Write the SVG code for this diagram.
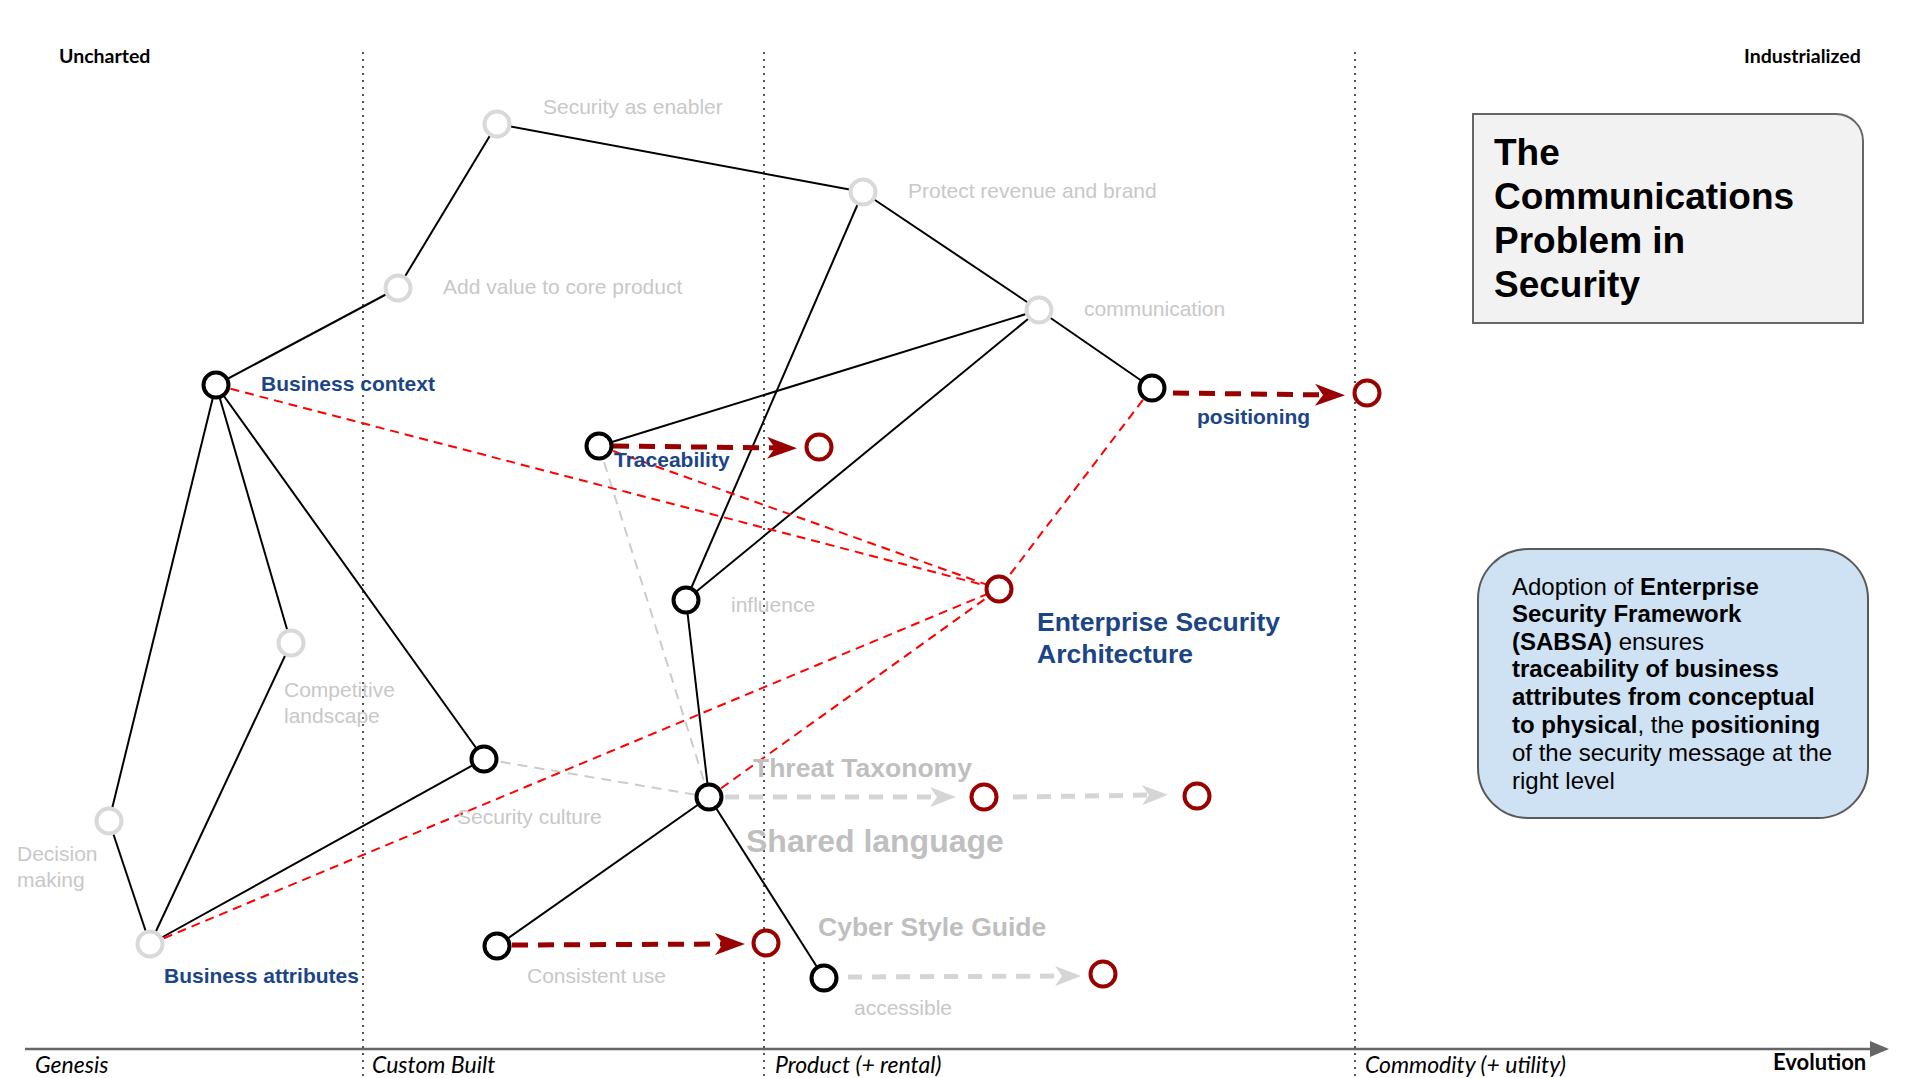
<svg xmlns="http://www.w3.org/2000/svg" width="1916" height="1078" viewBox="0 0 1916 1078">
<defs>
<style>
.bg{fill:#ffffff}
.vline{stroke:#555555;stroke-width:2;stroke-dasharray:2 5;fill:none}
.axis{stroke:#666666;stroke-width:2.5;fill:none}
.edge{stroke:#000000;stroke-width:2;fill:none}
.gdash{stroke:#cccccc;stroke-width:2;stroke-dasharray:10 7;fill:none}
.rdash{stroke:#ff0000;stroke-width:2;stroke-dasharray:9 6;fill:none}
.darrow{stroke:#990000;stroke-width:5;stroke-dasharray:16 10;fill:none}
.garrow{stroke:#d5d5d5;stroke-width:5;stroke-dasharray:14 10;fill:none}
.nb{fill:#ffffff;stroke:#000000;stroke-width:4}
.ng{fill:#ffffff;stroke:#d9d9d9;stroke-width:4}
.nr{fill:#ffffff;stroke:#990000;stroke-width:4}
.corner{font-family:Lato,"Open Sans","Liberation Sans",sans-serif;font-weight:bold;font-size:19.5px;fill:#000000}
.evo{font-family:Lato,"Open Sans","Liberation Sans",sans-serif;font-weight:bold;font-size:22px;fill:#000000}
.stage{font-family:Lato,"Open Sans","Liberation Sans",sans-serif;font-style:italic;font-size:23px;fill:#000000}
.lg{font-family:"Liberation Sans",Arial,sans-serif;font-size:21px;fill:#c8c8c8}
.lgb{font-family:"Liberation Sans",Arial,sans-serif;font-size:26.5px;font-weight:bold;fill:#bfbfbf}
.lgbig{font-family:"Liberation Sans",Arial,sans-serif;font-size:32px;font-weight:bold;fill:#bfbfbf}
.lb{font-family:"Liberation Sans",Arial,sans-serif;font-size:21px;font-weight:bold;fill:#1c4587}
.lbb{font-family:"Liberation Sans",Arial,sans-serif;font-size:26.5px;font-weight:bold;fill:#1c4587}
.title{font-family:"Liberation Sans",Arial,sans-serif;font-size:37px;font-weight:bold;fill:#000000}
.note{font-family:"Liberation Sans",Arial,sans-serif;font-size:24px;fill:#000000}
.b{font-weight:bold}
</style>
<marker id="arrRed" markerUnits="userSpaceOnUse" viewBox="0 0 30 22" markerWidth="30" markerHeight="22" refX="15" refY="11" orient="auto">
<path d="M0,0 L30,11 L0,22 L8,11 Z" fill="#990000"/>
</marker>
<marker id="arrGray" markerUnits="userSpaceOnUse" viewBox="0 0 26 20" markerWidth="26" markerHeight="20" refX="13" refY="10" orient="auto">
<path d="M0,0 L26,10 L0,20 L7,10 Z" fill="#d5d5d5"/>
</marker>
</defs>
<rect class="bg" x="0" y="0" width="1916" height="1078"/>

<g id="grid">
<line class="vline" x1="363" y1="52" x2="363" y2="1078"/>
<line class="vline" x1="764" y1="52" x2="764" y2="1078"/>
<line class="vline" x1="1355" y1="52" x2="1355" y2="1078"/>
<line class="axis" x1="25" y1="1049" x2="1872" y2="1049"/>
<polygon points="1870,1041 1889,1049 1870,1057" fill="#666666"/>
<text class="corner" x="59" y="63">Uncharted</text>
<text class="corner" x="1744" y="63">Industrialized</text>
<text class="evo" x="1773" y="1070">Evolution</text>
<text class="stage" x="35" y="1073">Genesis</text>
<text class="stage" x="372" y="1073">Custom Built</text>
<text class="stage" x="775" y="1073">Product (+ rental)</text>
<text class="stage" x="1365" y="1073">Commodity (+ utility)</text>
</g>

<g id="connectors">
<line class="edge" x1="216" y1="385" x2="398" y2="288"/>
<line class="edge" x1="398" y1="288" x2="497" y2="124"/>
<line class="edge" x1="497" y1="124" x2="863" y2="192"/>
<line class="edge" x1="863" y1="192" x2="1039" y2="310"/>
<line class="edge" x1="863" y1="192" x2="686" y2="600"/>
<line class="edge" x1="1039" y1="310" x2="1152" y2="388"/>
<line class="edge" x1="1039" y1="310" x2="599" y2="446"/>
<line class="edge" x1="1039" y1="310" x2="686" y2="600"/>
<line class="edge" x1="686" y1="600" x2="709" y2="797"/>
<line class="edge" x1="216" y1="385" x2="109" y2="821"/>
<line class="edge" x1="216" y1="385" x2="291" y2="643"/>
<line class="edge" x1="216" y1="385" x2="484" y2="759"/>
<line class="edge" x1="109" y1="821" x2="150" y2="944"/>
<line class="edge" x1="291" y1="643" x2="150" y2="944"/>
<line class="edge" x1="150" y1="944" x2="484" y2="759"/>
<line class="edge" x1="709" y1="797" x2="497" y2="946"/>
<line class="edge" x1="709" y1="797" x2="824" y2="978"/>
<line class="gdash" x1="484" y1="759" x2="709" y2="797"/>
<line class="gdash" x1="599" y1="446" x2="709" y2="797"/>
<line class="rdash" x1="216" y1="385" x2="999" y2="589"/>
<line class="rdash" x1="599" y1="446" x2="999" y2="589"/>
<line class="rdash" x1="1152" y1="388" x2="999" y2="589"/>
<line class="rdash" x1="150" y1="944" x2="999" y2="589"/>
<line class="rdash" x1="709" y1="797" x2="999" y2="589"/>
<line class="darrow" x1="613" y1="446" x2="782" y2="448" marker-end="url(#arrRed)"/>
<line class="darrow" x1="1173" y1="393" x2="1330" y2="395" marker-end="url(#arrRed)"/>
<line class="darrow" x1="512" y1="945" x2="730" y2="944" marker-end="url(#arrRed)"/>
<line class="garrow" x1="725" y1="797" x2="943" y2="797" marker-end="url(#arrGray)"/>
<line class="garrow" x1="1013" y1="797" x2="1155" y2="795" marker-end="url(#arrGray)"/>
<line class="garrow" x1="848" y1="977" x2="1068" y2="976" marker-end="url(#arrGray)"/>
</g>

<g id="node-security-enabler"><circle class="ng" cx="497" cy="124" r="12.5"/><text class="lg" x="543" y="114">Security as enabler</text></g>
<g id="node-protect-revenue"><circle class="ng" cx="863" cy="192" r="12.5"/><text class="lg" x="908" y="198">Protect revenue and brand</text></g>
<g id="node-add-value"><circle class="ng" cx="398" cy="288" r="12.5"/><text class="lg" x="443" y="294">Add value to core product</text></g>
<g id="node-communication"><circle class="ng" cx="1039" cy="310" r="12.5"/><text class="lg" x="1084" y="316">communication</text></g>
<g id="node-business-context"><circle class="nb" cx="216" cy="385" r="12.5"/><text class="lb" x="261" y="391">Business context</text></g>
<g id="node-positioning"><circle class="nb" cx="1152" cy="388" r="12.5"/><text class="lb" x="1197" y="424">positioning</text></g>
<g id="node-positioning-target"><circle class="nr" cx="1367" cy="393" r="12.5"/></g>
<g id="node-traceability"><circle class="nb" cx="599" cy="446" r="12.5"/><text class="lb" x="614" y="467">Traceability</text></g>
<g id="node-traceability-target"><circle class="nr" cx="819" cy="447" r="12.5"/></g>
<g id="node-esa"><circle class="nr" cx="999" cy="589" r="12.5"/><text class="lbb" x="1037" y="631">Enterprise Security</text><text class="lbb" x="1037" y="663">Architecture</text></g>
<g id="node-influence"><circle class="nb" cx="686" cy="600" r="12.5"/><text class="lg" x="731" y="612">influence</text></g>
<g id="node-competitive"><circle class="ng" cx="291" cy="643" r="12.5"/><text class="lg" x="284" y="697">Competitive</text><text class="lg" x="284" y="723">landscape</text></g>
<g id="node-decision"><circle class="ng" cx="109" cy="821" r="12.5"/><text class="lg" x="17" y="861">Decision</text><text class="lg" x="17" y="887">making</text></g>
<g id="node-security-culture"><circle class="nb" cx="484" cy="759" r="12.5"/><text class="lg" x="457" y="824">Security culture</text></g>
<g id="node-shared-language"><circle class="nb" cx="709" cy="797" r="12.5"/><text class="lgb" x="753" y="777">Threat Taxonomy</text><text class="lgbig" x="746" y="852">Shared language</text></g>
<g id="node-threat-target"><circle class="nr" cx="984" cy="797" r="12.5"/></g>
<g id="node-threat-target2"><circle class="nr" cx="1197" cy="796" r="12.5"/></g>
<g id="node-business-attributes"><circle class="ng" cx="150" cy="944" r="12.5"/><text class="lb" x="164" y="983">Business attributes</text></g>
<g id="node-consistent-use"><circle class="nb" cx="497" cy="946" r="12.5"/><text class="lg" x="527" y="983">Consistent use</text></g>
<g id="node-consistent-target"><circle class="nr" cx="766" cy="943" r="12.5"/></g>
<g id="node-accessible"><circle class="nb" cx="824" cy="978" r="12.5"/><text class="lg" x="854" y="1015">accessible</text><text class="lgb" x="818" y="936">Cyber Style Guide</text></g>
<g id="node-accessible-target"><circle class="nr" cx="1103" cy="974" r="12.5"/></g>

<g id="title-box">
<path d="M1473,114 L1836,114 A27,27 0 0 1 1863,141 L1863,323 L1473,323 Z" fill="#f2f2f2" stroke="#666666" stroke-width="2"/>
<text class="title" x="1494" y="165">The</text>
<text class="title" x="1494" y="209">Communications</text>
<text class="title" x="1494" y="253">Problem in</text>
<text class="title" x="1494" y="297">Security</text>
</g>

<g id="note-box">
<rect x="1478" y="549" width="390" height="269" rx="50" ry="50" fill="#cfe2f3" stroke="#595959" stroke-width="2"/>
<text class="note" x="1512" y="595">Adoption of <tspan class="b">Enterprise</tspan></text>
<text class="note b" x="1512" y="622">Security Framework</text>
<text class="note" x="1512" y="650"><tspan class="b">(SABSA)</tspan> ensures</text>
<text class="note b" x="1512" y="677">traceability of business</text>
<text class="note b" x="1512" y="705">attributes from conceptual</text>
<text class="note" x="1512" y="733"><tspan class="b">to physical</tspan>, the <tspan class="b">positioning</tspan></text>
<text class="note" x="1512" y="761">of the security message at the</text>
<text class="note" x="1512" y="789">right level</text>
</g>
</svg>
